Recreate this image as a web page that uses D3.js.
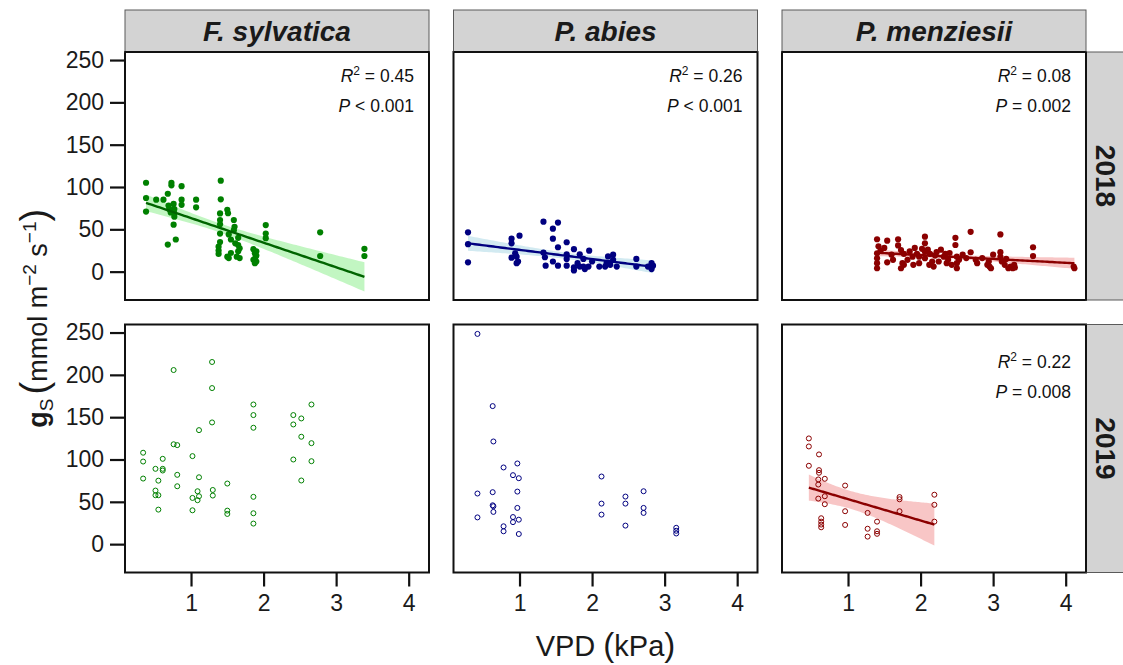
<!DOCTYPE html>
<html>
<head>
<meta charset="utf-8">
<script src="https://cdn.jsdelivr.net/npm/d3@7"></script>
<style>
  html, body { margin: 0; padding: 0; background: #fff; }
  svg { display: block; font-family: "Liberation Sans", Arial, sans-serif; }
</style>
</head>
<body>
<svg id="chart" width="1123" height="665"></svg>
<script>
// Stomatal conductance (gs) against vapour pressure deficit, per species and year
const species = ["F. sylvatica", "P. abies", "P. menziesii"];
const years = ["2018", "2019"];
const xTicks = [1, 2, 3, 4];
const yTicks = [0, 50, 100, 150, 200, 250];

// [VPD (kPa), gs (mmol m-2 s-1)]
const fagus2018 = [
  [0.38,105],[0.38,87],[0.38,71],[0.52,85],[0.62,85],[0.68,92],[0.69,78],[0.7,74],[0.72,70],[0.73,105],
  [0.73,102],[0.75,72],[0.76,80],[0.77,74],[0.77,69],[0.77,65],[0.76,55.5],[0.68,32],[0.79,38],[0.87,101],
  [0.87,85],[0.87,79],[1.07,85],[1.07,76],[1.41,107.5],[1.41,85.5],[1.4,68.8],[1.4,61],[1.4,56],[1.4,45],
  [1.4,35],[1.38,29.5],[1.38,25],[1.38,21],[1.5,73],[1.51,69],[1.52,44],[1.5,17.7],[1.52,16],[1.55,22],
  [1.55,38],[1.59,61],[1.6,53],[1.59,49],[1.61,33.5],[1.65,31.5],[1.65,40],[1.65,24],[1.67,27.5],[1.63,17.7],
  [1.67,16],[1.86,26.5],[1.88,21.7],[1.89,17.7],[1.88,10],[1.86,14],[1.9,24],[1.9,12],[1.9,19],[2.03,55],
  [2.03,45],[2.03,39.5],[2.78,46.5],[2.78,18.5],[3.39,27],[3.39,18.5]
];
const abies2018 = [
  [0.29,46.5],[0.29,32.4],[0.29,11],[0.89,39],[0.89,33.5],[1.0,42.5],[0.89,16.5],[0.96,17.7],[0.96,10],[0.98,12],
  [0.94,21.7],[1.33,59],[1.46,50.8],[1.53,58],[1.46,39],[1.53,28.8],[1.33,22.4],[1.35,17],[1.36,7],[1.46,12],
  [1.53,7],[1.65,34.7],[1.65,20.5],[1.65,15],[1.65,7],[1.75,26.5],[1.75,5],[1.75,1.5],[1.8,10],[1.83,20.5],
  [1.83,6],[1.88,6],[1.88,15],[1.9,3],[1.95,6],[1.96,24.8],[2.0,12],[2.1,6],[2.18,6],[2.2,10],
  [2.22,18],[2.25,8],[2.29,20],[2.29,14],[2.34,6],[2.61,15],[2.61,6],[2.77,6],[2.82,10],[2.82,3],[2.84,7]
];
const menziesii2018 = [
  [1.4,38.3],[1.4,21.7],[1.4,15.8],[1.4,10],[1.4,4],[1.42,30],[1.45,25],[1.5,28],[1.54,36.6],[1.54,11],
  [1.6,20],[1.62,14],[1.69,38.3],[1.69,31],[1.73,25.6],[1.77,20.9],[1.75,10],[1.73,4],[1.77,8],[1.82,14],
  [1.85,24],[1.89,17.7],[1.9,8],[1.92,28],[1.95,20.9],[1.98,17.7],[1.98,10],[2.02,27],[2.06,41.3],[2.06,33.5],
  [2.06,23.6],[2.06,15.8],[2.1,26],[2.12,8],[2.13,20.9],[2.16,12],[2.18,6],[2.2,19],[2.22,23],[2.25,12],
  [2.28,26],[2.32,17.7],[2.34,20.9],[2.36,10],[2.38,14],[2.4,22],[2.43,8],[2.48,40],[2.48,31.5],[2.5,17.7],
  [2.5,10],[2.5,4],[2.53,14],[2.58,20],[2.63,16],[2.69,47],[2.69,22.9],[2.76,14],[2.78,10],[2.85,16],
  [2.92,8],[2.94,12],[2.95,6],[2.97,4],[3.0,20],[3.1,44],[3.1,23],[3.1,17.7],[3.12,12],[3.16,8],
  [3.18,15],[3.21,4],[3.24,6],[3.27,4],[3.29,8],[3.3,5],[3.55,28.8],[3.55,18.5],[4.11,6],[4.12,4]
];
const fagus2019 = [
  [0.34,108],[0.34,97.6],[0.34,77.5],[0.51,89],[0.51,63.3],[0.51,57.8],[0.55,57.8],[0.55,75],[0.55,40.8],[0.61,100.8],
  [0.61,89],[0.61,87],[0.76,205.7],[0.76,118],[0.81,117],[0.81,81.9],[0.81,68.4],[1.02,104],[1.02,54.6],[1.02,40],
  [1.09,62.5],[1.09,51.9],[1.11,56.6],[1.11,134.7],[1.11,79],[1.29,215.2],[1.29,184.4],[1.29,143.8],[1.3,64],[1.3,57.4],
  [1.5,71.6],[1.5,39.6],[1.5,35.7],[1.86,165],[1.86,152.5],[1.86,137.5],[1.86,55.9],[1.86,36.5],[1.86,24.3],[2.41,152.5],
  [2.41,141.4],[2.41,100],[2.52,148.5],[2.52,126.9],[2.52,75.2],[2.66,165],[2.66,119.3],[2.66,98]
];
const abies2019 = [
  [0.42,248.4],[0.42,59.8],[0.42,31.6],[0.63,163.1],[0.64,121.3],[0.63,61.4],[0.63,45.9],[0.64,44.8],[0.64,38.1],[0.78,90.6],
  [0.78,21.1],[0.78,15.2],[0.91,81.5],[0.91,32],[0.91,26],[0.97,95.3],[0.97,62.1],[0.97,42.8],[0.99,77.9],[0.99,28.9],
  [0.99,12],[2.13,79.9],[2.13,47.9],[2.13,34.9],[2.46,56.2],[2.46,47.9],[2.46,21.9],[2.71,62.5],[2.71,42.8],[2.71,36.9],
  [3.16,19.3],[3.16,15.8],[3.16,12.6]
];
const menziesii2019 = [
  [0.46,124.9],[0.46,115.4],[0.46,92.6],[0.6,106],[0.6,87.4],[0.6,84.3],[0.59,76.4],[0.59,70.4],[0.68,77.2],[0.59,53.8],
  [0.68,56.6],[0.68,47.2],[0.63,30.6],[0.63,26.6],[0.63,23.1],[0.63,19.9],[0.96,69.2],[0.96,38.9],[0.96,22.7],[1.27,36.9],
  [1.27,18.2],[1.27,8.9],[1.4,26.6],[1.4,15.2],[1.4,12.2],[1.71,55.6],[1.71,53],[1.71,38.9],[2.19,58.4],[2.19,46.5],
  [2.19,26.6]
];

// rows: year, columns: species
const panelData = [
  [fagus2018, abies2018, menziesii2018],
  [fagus2019, abies2019, menziesii2019]
];
// regression statistics shown in panels that carry a linear fit
const r2Labels = [["0.45", "0.26", "0.08"], [null, null, "0.22"]];
const pLabels  = [["< 0.001", "< 0.001", "= 0.002"], [null, null, "= 0.008"]];

const pointColor  = ["#008000", "#000080", "#8B0000"];
const lineColor   = ["#006400", "#000080", "#8B0000"];
const ribbonColor = ["#90EE90", "#ADD8E6", "#F08080"];
const ribbonAlpha = [0.55, 0.55, 0.45];

// layout
const panelLeft = [125, 453.5, 782];
const panelTop = [52, 324.5];
const panelW = 304, panelH = 248;
const stripH = 42, sideStripW = 38;
const font = '"Liberation Sans", Arial, sans-serif';

const svg = d3.select("#chart");

const x = d3.scaleLinear().domain([0.09, 4.28]).range([0, panelW]);
const y = d3.scaleLinear().domain([-33.5, 259.5]).range([panelH, 0]);

// ordinary least squares with 95% confidence band
function tQuantile(df) {
  const z = 1.959964;
  return z + (z ** 3 + z) / (4 * df) + (5 * z ** 5 + 16 * z ** 3 + 3 * z) / (96 * df * df);
}
function linearFit(pts) {
  const n = pts.length;
  const mx = d3.mean(pts, d => d[0]), my = d3.mean(pts, d => d[1]);
  const sxx = d3.sum(pts, d => (d[0] - mx) ** 2);
  const sxy = d3.sum(pts, d => (d[0] - mx) * (d[1] - my));
  const b = sxy / sxx, a = my - b * mx;
  const rss = d3.sum(pts, d => (d[1] - a - b * d[0]) ** 2);
  const s = Math.sqrt(rss / (n - 2));
  const t = tQuantile(n - 2);
  const [x0, x1] = d3.extent(pts, d => d[0]);
  const grid = d3.range(0, 81).map(i => x0 + (x1 - x0) * i / 80);
  return grid.map(v => {
    const fit = a + b * v;
    const se = s * Math.sqrt(1 / n + (v - mx) ** 2 / sxx);
    return { x: v, y: fit, lo: fit - t * se, hi: fit + t * se };
  });
}

years.forEach((yr, r) => {
  species.forEach((sp, c) => {
    const g = svg.append("g").attr("transform", `translate(${panelLeft[c]},${panelTop[r]})`);
    const clipId = `clip-${r}-${c}`;
    g.append("clipPath").attr("id", clipId)
      .append("rect").attr("width", panelW).attr("height", panelH);
    g.append("rect").attr("width", panelW).attr("height", panelH).attr("fill", "#fff");

    const pts = panelData[r][c];
    const plot = g.append("g").attr("clip-path", `url(#${clipId})`);

    if (r2Labels[r][c] !== null) {
      const band = linearFit(pts);
      plot.append("path").datum(band)
        .attr("d", d3.area().x(d => x(d.x)).y0(d => y(d.lo)).y1(d => y(d.hi)))
        .attr("fill", ribbonColor[c]).attr("fill-opacity", ribbonAlpha[c]);
      if (r === 0) {
        plot.selectAll("circle.pt").data(pts).join("circle")
          .attr("class", "pt")
          .attr("cx", d => x(d[0])).attr("cy", d => y(d[1])).attr("r", 3.1)
          .attr("fill", pointColor[c]);
      } else {
        plot.selectAll("circle.pt").data(pts).join("circle")
          .attr("class", "pt")
          .attr("cx", d => x(d[0])).attr("cy", d => y(d[1])).attr("r", 2.5)
          .attr("fill", "none").attr("stroke", pointColor[c]).attr("stroke-width", 1);
      }
      plot.append("path").datum(band)
        .attr("d", d3.line().x(d => x(d.x)).y(d => y(d.y)))
        .attr("fill", "none").attr("stroke", lineColor[c]).attr("stroke-width", 2.4);

      // statistics
      const tx = panelW - 15;
      const ty = r === 0 ? 30 : 43;
      const t1 = g.append("text").attr("x", tx).attr("y", ty)
        .attr("text-anchor", "end").attr("font-size", 17.5).attr("fill", "#111");
      t1.append("tspan").attr("font-style", "italic").text("R");
      t1.append("tspan").attr("font-size", 12).attr("dy", -7).text("2");
      t1.append("tspan").attr("dy", 7).text(" = " + r2Labels[r][c]);
      const t2 = g.append("text").attr("x", tx).attr("y", ty + 30)
        .attr("text-anchor", "end").attr("font-size", 17.5).attr("fill", "#111");
      t2.append("tspan").attr("font-style", "italic").text("P");
      t2.append("tspan").text(" " + pLabels[r][c]);
    } else {
      plot.selectAll("circle.pt").data(pts).join("circle")
        .attr("class", "pt")
        .attr("cx", d => x(d[0])).attr("cy", d => y(d[1])).attr("r", 2.5)
        .attr("fill", "none").attr("stroke", pointColor[c]).attr("stroke-width", 1);
    }

    g.append("rect").attr("width", panelW).attr("height", panelH)
      .attr("fill", "none").attr("stroke", "#111").attr("stroke-width", 2);

    // y axis on the first column
    if (c === 0) {
      const ay = g.append("g").call(d3.axisLeft(y).tickValues(yTicks).tickSize(15).tickPadding(6));
      ay.select(".domain").remove();
      ay.selectAll(".tick line").attr("stroke", "#111").attr("stroke-width", 2.2);
      ay.selectAll(".tick text").attr("font-size", 23).attr("font-family", font).attr("fill", "#1a1a1a");
    }
    // x axis on the bottom row
    if (r === 1) {
      const ax = g.append("g").attr("transform", `translate(0,${panelH})`)
        .call(d3.axisBottom(x).tickValues(xTicks).tickFormat(d3.format("d")).tickSize(14).tickPadding(8));
      ax.select(".domain").remove();
      ax.selectAll(".tick line").attr("stroke", "#111").attr("stroke-width", 2.2);
      ax.selectAll(".tick text").attr("font-size", 23).attr("font-family", font).attr("fill", "#1a1a1a");
    }
  });
});

// column strips
species.forEach((sp, c) => {
  const g = svg.append("g").attr("transform", `translate(${panelLeft[c]},${panelTop[0] - stripH})`);
  g.append("rect").attr("width", panelW).attr("height", stripH)
    .attr("fill", "#D3D3D3").attr("stroke", "#5a5a5a").attr("stroke-width", 1);
  g.append("text").attr("x", panelW / 2).attr("y", stripH / 2 + 10)
    .attr("text-anchor", "middle").attr("font-size", 28).attr("font-weight", "bold")
    .attr("font-style", "italic").attr("fill", "#1a1a1a").text(sp);
  g.append("line").attr("x1", 0).attr("x2", panelW).attr("y1", stripH).attr("y2", stripH)
    .attr("stroke", "#111").attr("stroke-width", 2);
});
// row strips
years.forEach((yr, r) => {
  const x0 = panelLeft[2] + panelW;
  const g = svg.append("g").attr("transform", `translate(${x0},${panelTop[r]})`);
  g.append("rect").attr("width", sideStripW).attr("height", panelH)
    .attr("fill", "#D3D3D3").attr("stroke", "#5a5a5a").attr("stroke-width", 1);
  g.append("text")
    .attr("transform", `translate(${sideStripW / 2 - 9.5},${panelH / 2}) rotate(90)`)
    .attr("text-anchor", "middle").attr("font-size", 28).attr("font-weight", "bold")
    .attr("fill", "#1a1a1a").text(yr);
  // shared edge with the panel
  g.append("line").attr("x1", 0).attr("x2", 0).attr("y1", 0).attr("y2", panelH)
    .attr("stroke", "#111").attr("stroke-width", 2);
});

// axis titles
const midX = (panelLeft[0] + panelLeft[2] + panelW) / 2;
const xt = svg.append("text").attr("x", midX).attr("y", 656)
  .attr("text-anchor", "middle").attr("font-size", 29).attr("fill", "#1a1a1a");
xt.append("tspan").text("VPD ");
xt.append("tspan").attr("font-size", 33).text("(");
xt.append("tspan").text("kPa");
xt.append("tspan").attr("font-size", 33).text(")");

const midY = (panelTop[0] + panelTop[1] + panelH) / 2 + 6;
const yt = svg.append("text").attr("transform", `translate(47,${midY}) rotate(-90)`)
  .attr("text-anchor", "middle").attr("font-size", 27).attr("fill", "#1a1a1a");
yt.append("tspan").attr("font-weight", "bold").text("g");
yt.append("tspan").attr("font-size", 19).attr("dy", 6).text("S");
yt.append("tspan").attr("font-size", 38).attr("dy", -6).attr("dx", 4).text("(");
yt.append("tspan").text("mmol m");
yt.append("tspan").attr("font-size", 19).attr("dy", -11).text("\u22122");
yt.append("tspan").attr("dy", 11).text(" s");
yt.append("tspan").attr("font-size", 19).attr("dy", -11).text("\u22121");
yt.append("tspan").attr("font-size", 38).attr("dy", 11).text(")");
</script>
</body>
</html>
